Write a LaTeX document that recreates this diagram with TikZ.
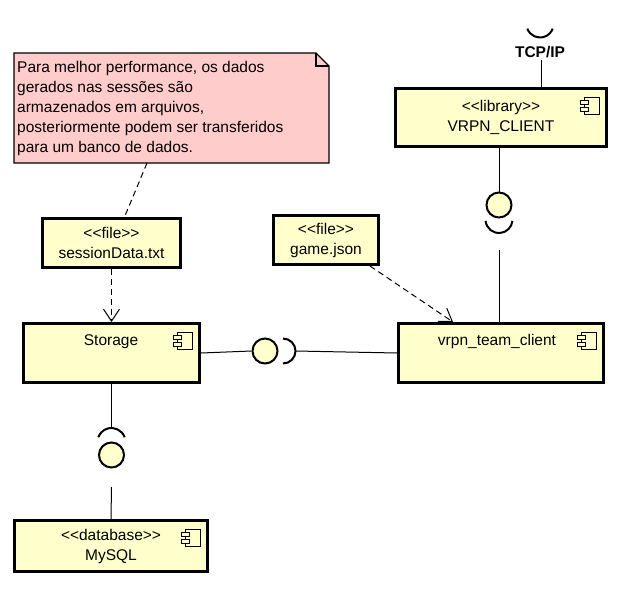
\documentclass[tikz,border=0pt]{standalone}
\usepackage{fontspec}
\setmainfont{Liberation Sans}
\usetikzlibrary{arrows.meta}
\definecolor{compFill}{HTML}{FFFFCC}
\definecolor{noteFill}{HTML}{FFCCCC}
\newcommand{\stereo}[1]{<{}<#1>{}>}
\newcommand{\compIcon}[1]{%
  \draw[iconLine] ([shift={(-24,10)}]#1.north east) rectangle ([shift={(-9,27)}]#1.north east);
  \draw[iconLine] ([shift={(-28,13)}]#1.north east) rectangle ([shift={(-20,17)}]#1.north east);
  \draw[iconLine] ([shift={(-28,20)}]#1.north east) rectangle ([shift={(-20,24)}]#1.north east);}
\tikzstyle{compBox}=[shape = rectangle, draw, line width = 3pt, fill = compFill, inner sep = 0pt, align = center, font = \fontsize{15.5}{20}\selectfont]
\tikzstyle{boxText}=[inner sep = 0pt, font = \fontsize{15.5}{20}\selectfont]
\tikzstyle{iconLine}=[line width = 1pt, fill = compFill]
\tikzstyle{ballStyle}=[shape = circle, draw, line width = 2pt, fill = compFill, minimum size = 25pt, inner sep = 0pt]
\tikzstyle{socketLine}=[line width = 2pt]
\tikzstyle{wire}=[line width = 1pt]
\tikzstyle{depLine}=[line width = 1pt, dash pattern = on 6pt off 4pt, -{Straight Barb[length=12pt, width=16pt]}]

\begin{document}
\begin{tikzpicture}[x = 1pt, y = -1pt]
\useasboundingbox (0,0) rectangle (620,594);
% note
\draw[line width = 1.2pt, fill = noteFill] (14,53) -- (316,53) -- (329,66) -- (329,163) -- (14,163) -- cycle;
\draw[line width = 1.2pt] (316,53) -- (316,66) -- (329,66);
\node[boxText, anchor = north west, align = left] (note) at (17,61) {Para melhor performance, os dados\\gerados nas sessões são\\armazenados em arquivos,\\posteriormente podem ser transferidos\\para um banco de dados.};
\coordinate (noteTip) at (147,163);
% boxes
\node[compBox, minimum width = 138pt, minimum height = 49pt] (sessionFile) at (111.5,243) {\stereo{file}\\sessionData.txt};
\node[compBox, minimum width = 105pt, minimum height = 49pt] (gameFile) at (326,240) {\stereo{file}\\game.json};
\node[compBox, minimum width = 176pt, minimum height = 59pt] (storage) at (111.5,353) {};
\node[boxText, anchor = base] (storageText) at (111,345) {Storage};
\node[compBox, minimum width = 205pt, minimum height = 59pt] (client) at (501,353) {};
\node[boxText, anchor = base] (clientText) at (497,345) {vrpn\_team\_client};
\node[compBox, minimum width = 211pt, minimum height = 58pt] (library) at (501,117.5) {\stereo{library}\\VRPN\_CLIENT};
\node[compBox, minimum width = 193pt, minimum height = 51pt] (mysql) at (111,546) {\stereo{database}\\MySQL};
\compIcon{storage}
\compIcon{client}
\compIcon{library}
\compIcon{mysql}
% dependencies
\draw[wire, dash pattern = on 6pt off 4pt] (noteTip) -- ([xshift=13pt]sessionFile.north);
\draw[depLine] (sessionFile.south) -- (storage.north);
\draw[depLine] ([xshift=-10pt]gameFile.south east) -- ([xshift=-48pt]client.north);
% storage -- client
\node[ballStyle] (ballH) at (265,351) {};
\draw[socketLine] ([shift={(-90:12.5pt)}]283,351) arc[start angle=-90, end angle=90, radius=12.5pt];
\coordinate (sockH) at (295.5,351);
\draw[wire] (storage.east) -- (ballH.west);
\draw[wire] (sockH) -- (client.west);
% library -- client
\node[ballStyle] (ballV) at (499,205) {};
\draw[socketLine] ([shift={(186:13.5pt)}]499,219.5) arc[start angle=186, end angle=354, radius=13.5pt];
\coordinate (sockVEnd) at (499,250);
\draw[wire] (ballV.north) -- (ballV.north |- library.south);
\draw[wire] (sockVEnd) -- (sockVEnd |- client.north);
% TCP/IP
\draw[socketLine] ([shift={(200:13.5pt)}]540,24) arc[start angle=200, end angle=340, radius=13.5pt];
\node[boxText, anchor = base, font = \fontsize{15.5}{20}\selectfont\bfseries] (tcpText) at (540,57) {TCP/IP};
\coordinate (tcpEnd) at (541,60);
\draw[wire] (tcpEnd) -- (tcpEnd |- library.north);
% storage -- mysql
\draw[socketLine] ([shift={(20:14pt)}]111.5,442) arc[start angle=20, end angle=160, radius=14pt];
\node[ballStyle] (ballM) at (111.5,455) {};
\coordinate (sockMTop) at (111.5,428);
\coordinate (sockMEnd) at (111.5,487);
\draw[wire] (storage.south) -- (sockMTop);
\draw[wire] (sockMEnd) -- (mysql.north);
\end{tikzpicture}
\end{document}
